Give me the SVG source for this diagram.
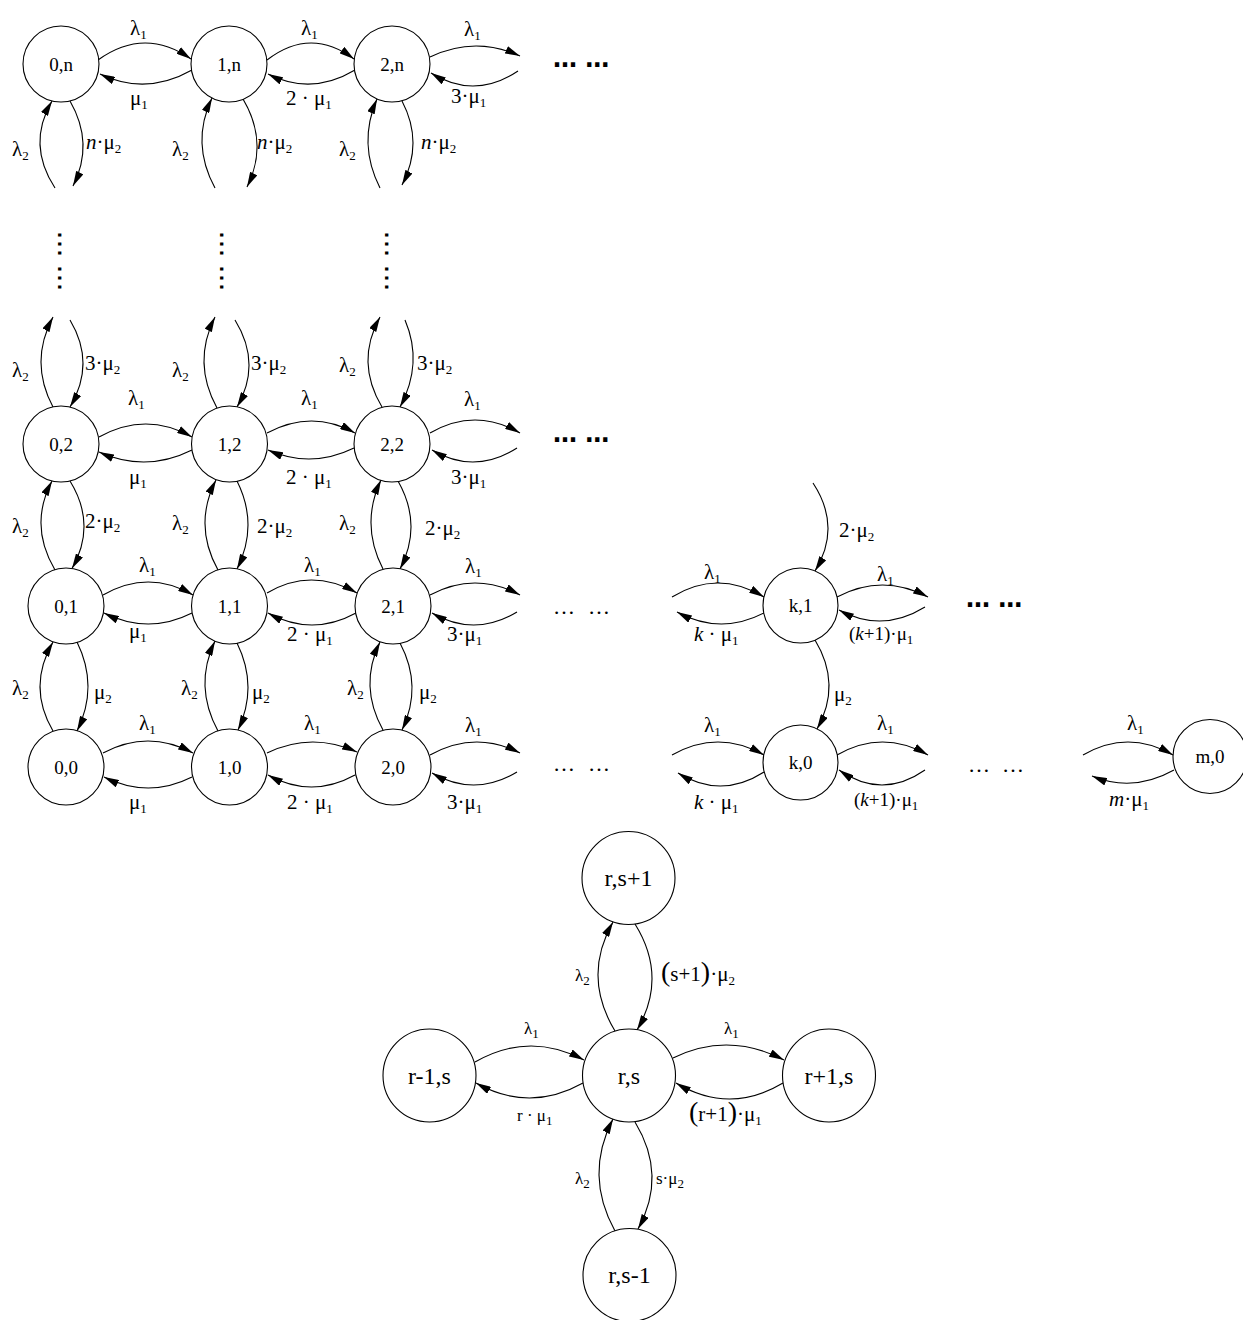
<svg xmlns="http://www.w3.org/2000/svg" width="1243" height="1320" viewBox="0 0 1243 1320">
<style>
  .nd circle { fill: #fff; stroke: #000; stroke-width: 1.1; }
  .nd text { font-family: "Liberation Serif", serif; font-size: 19px; text-anchor: middle; fill: #000; }
  .big text { font-size: 24px; }
  .ed path { fill: none; stroke: #000; stroke-width: 1.1; marker-end: url(#ah); }
  .lb { font-family: "Liberation Serif", serif; font-size: 21px; fill: #000; }
  .sm { font-size: 17px; }
  .md { font-size: 19px; }
  .sb { font-size: 13px; }
  .it { font-style: italic; }
  .pr { font-size: 28px; }
  .dl { font-family: "Liberation Serif", serif; font-size: 22px; fill: #000; }
  .db { font-family: "DejaVu Sans", sans-serif; font-weight: bold; font-size: 24px; fill: #000; }
  .dv { font-family: "DejaVu Sans", sans-serif; font-size: 27px; fill: #000; }
</style>
<defs>
  <marker id="ah" viewBox="0 0 15 8" refX="15" refY="4" markerWidth="15" markerHeight="8" markerUnits="userSpaceOnUse" orient="auto">
    <path d="M0,0 L15,4 L0,8 z" fill="#000"/>
  </marker>
</defs>
<rect width="1243" height="1320" fill="#fff"/>

<!-- transitions -->
<g id="edges" class="ed">
  <!-- row n -->
  <path d="M98,60 Q144.5,26.5 191,59"/>
  <path d="M192,70 Q146,96 100,74"/>
  <path d="M267,60 Q310.5,26.5 354,59"/>
  <path d="M355,70 Q311.5,96 268,74"/>
  <path d="M430,57 Q475,35.5 520,56"/>
  <path d="M518,71 Q474.5,100 431,73"/>
  <path d="M55,188 Q26.5,144.5 52,101"/>
  <path d="M70,101 Q94.5,143.5 73,186"/>
  <path d="M215,188 Q190.5,143 212,98"/>
  <path d="M243,99 Q269,143 247,187"/>
  <path d="M380,188 Q357.5,143.5 377,99"/>
  <path d="M402,101 Q424,143 402,185"/>
  <!-- row 2 -->
  <path d="M53,407 Q29,362 53,317"/>
  <path d="M70,320 Q96,363.5 70,407"/>
  <path d="M217,408 Q192,362.5 215,317"/>
  <path d="M235,320 Q262,363.5 237,407"/>
  <path d="M382,407 Q355,362 380,317"/>
  <path d="M405,320 Q423.5,363.5 400,407"/>
  <path d="M99,437 Q146,411 192,437"/>
  <path d="M192,450 Q146,473 99,452"/>
  <path d="M267,433 Q312,409 355,433"/>
  <path d="M354,448 Q311,469 268,450"/>
  <path d="M430,433 Q475,407 520,433"/>
  <path d="M517,448 Q474.5,475 432,450"/>
  <!-- row 2 to row 1 -->
  <path d="M55,570 Q28.5,525.5 52,481"/>
  <path d="M70,481 Q97,524.75 72,568.5"/>
  <path d="M218,570 Q193,525 216,480"/>
  <path d="M237,481 Q259,525 237,569"/>
  <path d="M383,569 Q360,524.5 381,480"/>
  <path d="M398,481 Q423,525 400,569"/>
  <!-- row 1 -->
  <path d="M103,595 Q148.5,569 193,595"/>
  <path d="M192,613 Q148.5,635 104,613"/>
  <path d="M267,593 Q311,567 357,593"/>
  <path d="M356,613 Q312,637 268,613"/>
  <path d="M430,595 Q475,571 520,595"/>
  <path d="M517,612 Q474.5,637.5 432,613"/>
  <!-- row 1 to row 0 -->
  <path d="M53,731 Q27,686.5 53,642"/>
  <path d="M77,642 Q99,686.5 77,731"/>
  <path d="M218,731 Q193.5,686 215,641"/>
  <path d="M237,643 Q258.5,686.5 238,730"/>
  <path d="M383,730 Q358.5,686 380,642"/>
  <path d="M400,643 Q423,686.5 402,730"/>
  <!-- row 0 -->
  <path d="M103,753 Q148,729 193,753"/>
  <path d="M192,777 Q148.5,799 104,777"/>
  <path d="M267,753 Q311.5,731.5 357,752"/>
  <path d="M355,775 Q311.5,799 268,775"/>
  <path d="M430,755 Q475,730 520,753"/>
  <path d="M517,772 Q474.5,797.5 432,773"/>
  <!-- column k -->
  <path d="M813,483 Q842,527 815,571"/>
  <path d="M815,640 Q842,684.5 817,729"/>
  <path d="M672,597 Q717.5,569 764,597"/>
  <path d="M764,613 Q720.5,635.5 677,612"/>
  <path d="M837,597 Q882.5,573 928,597"/>
  <path d="M925,607 Q882,633.5 839,610"/>
  <path d="M672,755 Q718,729 764,755"/>
  <path d="M764,772 Q721,799.5 678,773"/>
  <path d="M837,755 Q882.5,729 928,755"/>
  <path d="M925,770 Q882,800 839,770"/>
  <!-- state m,0 -->
  <path d="M1083,755 Q1128,729 1173,755"/>
  <path d="M1174,770 Q1133,793 1092,776"/>
  <!-- general state r,s -->
  <path d="M615,1031 Q582,976.5 613,922"/>
  <path d="M635,924 Q668,977 637,1030"/>
  <path d="M475,1062 Q529,1031 584,1060"/>
  <path d="M583,1083 Q529.5,1113 476,1083"/>
  <path d="M673,1058 Q728,1031 784,1060"/>
  <path d="M783,1083 Q729.5,1115 676,1083"/>
  <path d="M615,1231 Q584,1175 613,1119"/>
  <path d="M635,1122 Q667.5,1175.5 638,1229"/>
</g>

<!-- states -->
<g id="n0n" class="nd"><circle cx="61" cy="64" r="38"/><text x="61" y="70.5">0,n</text></g>
<g id="n1n" class="nd"><circle cx="229" cy="64" r="38"/><text x="229" y="70.5">1,n</text></g>
<g id="n2n" class="nd"><circle cx="392" cy="64" r="38"/><text x="392" y="70.5">2,n</text></g>
<g id="n02" class="nd"><circle cx="61" cy="444" r="38"/><text x="61" y="450.5">0,2</text></g>
<g id="n12" class="nd"><circle cx="229.5" cy="444" r="38"/><text x="229.5" y="450.5">1,2</text></g>
<g id="n22" class="nd"><circle cx="392" cy="444" r="38"/><text x="392" y="450.5">2,2</text></g>
<g id="n01" class="nd"><circle cx="66" cy="606" r="38"/><text x="66" y="612.5">0,1</text></g>
<g id="n11" class="nd"><circle cx="229.5" cy="606" r="38"/><text x="229.5" y="612.5">1,1</text></g>
<g id="n21" class="nd"><circle cx="393" cy="606" r="38"/><text x="393" y="612.5">2,1</text></g>
<g id="n00" class="nd"><circle cx="66" cy="767" r="38"/><text x="66" y="773.5">0,0</text></g>
<g id="n10" class="nd"><circle cx="229.5" cy="767" r="38"/><text x="229.5" y="773.5">1,0</text></g>
<g id="n20" class="nd"><circle cx="393" cy="767" r="38"/><text x="393" y="773.5">2,0</text></g>
<g id="nk1" class="nd"><circle cx="800.5" cy="605.5" r="37.5"/><text x="800.5" y="612">k,1</text></g>
<g id="nk0" class="nd"><circle cx="800.5" cy="762.5" r="37.5"/><text x="800.5" y="769">k,0</text></g>
<g id="nm0" class="nd"><circle cx="1210" cy="756.5" r="37"/><text x="1210" y="763">m,0</text></g>
<g id="nrs1" class="nd big"><circle cx="628.5" cy="878" r="46.5"/><text x="628.5" y="886">r,s+1</text></g>
<g id="nrs" class="nd big"><circle cx="629" cy="1075.5" r="46.5"/><text x="629" y="1083.5">r,s</text></g>
<g id="nr-1s" class="nd big"><circle cx="429.5" cy="1075.5" r="46.5"/><text x="429.5" y="1083.5">r-1,s</text></g>
<g id="nr+1s" class="nd big"><circle cx="829" cy="1075.5" r="46.5"/><text x="829" y="1083.5">r+1,s</text></g>
<g id="nrs-1" class="nd big"><circle cx="629.5" cy="1275" r="46.5"/><text x="629.5" y="1283">r,s-1</text></g>

<!-- rate labels -->
<g id="labels">
  <!-- row n -->
  <text class="lb" x="130" y="35">λ<tspan class="sb" dy="4">1</tspan></text>
  <text class="lb" x="130" y="105">μ<tspan class="sb" dy="4">1</tspan></text>
  <text class="lb" x="301" y="35">λ<tspan class="sb" dy="4">1</tspan></text>
  <text class="lb" x="286" y="105">2 · μ<tspan class="sb" dy="4">1</tspan></text>
  <text class="lb" x="464" y="36">λ<tspan class="sb" dy="4">1</tspan></text>
  <text class="lb" x="451" y="103">3·μ<tspan class="sb" dy="4">1</tspan></text>
  <text class="lb" x="12" y="156">λ<tspan class="sb" dy="4">2</tspan></text>
  <text class="lb" x="86" y="149"><tspan class="it">n</tspan>·μ<tspan class="sb" dy="4">2</tspan></text>
  <text class="lb" x="172" y="156">λ<tspan class="sb" dy="4">2</tspan></text>
  <text class="lb" x="257" y="149"><tspan class="it">n</tspan>·μ<tspan class="sb" dy="4">2</tspan></text>
  <text class="lb" x="339" y="156">λ<tspan class="sb" dy="4">2</tspan></text>
  <text class="lb" x="421" y="149"><tspan class="it">n</tspan>·μ<tspan class="sb" dy="4">2</tspan></text>
  <!-- row 2 -->
  <text class="lb" x="12" y="377">λ<tspan class="sb" dy="4">2</tspan></text>
  <text class="lb" x="85" y="370">3·μ<tspan class="sb" dy="4">2</tspan></text>
  <text class="lb" x="172" y="377">λ<tspan class="sb" dy="4">2</tspan></text>
  <text class="lb" x="251" y="370">3·μ<tspan class="sb" dy="4">2</tspan></text>
  <text class="lb" x="339" y="372">λ<tspan class="sb" dy="4">2</tspan></text>
  <text class="lb" x="417" y="370">3·μ<tspan class="sb" dy="4">2</tspan></text>
  <text class="lb" x="128" y="405">λ<tspan class="sb" dy="4">1</tspan></text>
  <text class="lb" x="129" y="484">μ<tspan class="sb" dy="4">1</tspan></text>
  <text class="lb" x="301" y="405">λ<tspan class="sb" dy="4">1</tspan></text>
  <text class="lb" x="286" y="484">2 · μ<tspan class="sb" dy="4">1</tspan></text>
  <text class="lb" x="464" y="406">λ<tspan class="sb" dy="4">1</tspan></text>
  <text class="lb" x="451" y="484">3·μ<tspan class="sb" dy="4">1</tspan></text>
  <text class="lb" x="12" y="533">λ<tspan class="sb" dy="4">2</tspan></text>
  <text class="lb" x="85" y="528">2·μ<tspan class="sb" dy="4">2</tspan></text>
  <text class="lb" x="172" y="530">λ<tspan class="sb" dy="4">2</tspan></text>
  <text class="lb" x="257" y="533">2·μ<tspan class="sb" dy="4">2</tspan></text>
  <text class="lb" x="339" y="530">λ<tspan class="sb" dy="4">2</tspan></text>
  <text class="lb" x="425" y="535">2·μ<tspan class="sb" dy="4">2</tspan></text>
  <!-- row 1 -->
  <text class="lb" x="139" y="572">λ<tspan class="sb" dy="4">1</tspan></text>
  <text class="lb" x="129" y="638">μ<tspan class="sb" dy="4">1</tspan></text>
  <text class="lb" x="304" y="572">λ<tspan class="sb" dy="4">1</tspan></text>
  <text class="lb" x="287" y="641">2 · μ<tspan class="sb" dy="4">1</tspan></text>
  <text class="lb" x="465" y="573">λ<tspan class="sb" dy="4">1</tspan></text>
  <text class="lb" x="447" y="641">3·μ<tspan class="sb" dy="4">1</tspan></text>
  <text class="lb" x="12" y="695">λ<tspan class="sb" dy="4">2</tspan></text>
  <text class="lb" x="94" y="699">μ<tspan class="sb" dy="4">2</tspan></text>
  <text class="lb" x="181" y="695">λ<tspan class="sb" dy="4">2</tspan></text>
  <text class="lb" x="252" y="699">μ<tspan class="sb" dy="4">2</tspan></text>
  <text class="lb" x="347" y="695">λ<tspan class="sb" dy="4">2</tspan></text>
  <text class="lb" x="419" y="699">μ<tspan class="sb" dy="4">2</tspan></text>
  <!-- row 0 -->
  <text class="lb" x="139" y="730">λ<tspan class="sb" dy="4">1</tspan></text>
  <text class="lb" x="129" y="809">μ<tspan class="sb" dy="4">1</tspan></text>
  <text class="lb" x="304" y="730">λ<tspan class="sb" dy="4">1</tspan></text>
  <text class="lb" x="287" y="809">2 · μ<tspan class="sb" dy="4">1</tspan></text>
  <text class="lb" x="465" y="732">λ<tspan class="sb" dy="4">1</tspan></text>
  <text class="lb" x="447" y="809">3·μ<tspan class="sb" dy="4">1</tspan></text>
  <!-- column k and state m,0 -->
  <text class="lb" x="704" y="579">λ<tspan class="sb" dy="4">1</tspan></text>
  <text class="lb" x="694" y="641"><tspan class="it">k</tspan> · μ<tspan class="sb" dy="4">1</tspan></text>
  <text class="lb" x="839" y="537">2·μ<tspan class="sb" dy="4">2</tspan></text>
  <text class="lb" x="877" y="581">λ<tspan class="sb" dy="4">1</tspan></text>
  <text class="lb md" x="849" y="640">(<tspan class="it">k</tspan>+1)·μ<tspan class="sb" dy="4">1</tspan></text>
  <text class="lb" x="834" y="701">μ<tspan class="sb" dy="4">2</tspan></text>
  <text class="lb" x="704" y="732">λ<tspan class="sb" dy="4">1</tspan></text>
  <text class="lb" x="694" y="809"><tspan class="it">k</tspan> · μ<tspan class="sb" dy="4">1</tspan></text>
  <text class="lb" x="877" y="730">λ<tspan class="sb" dy="4">1</tspan></text>
  <text class="lb md" x="854" y="806">(<tspan class="it">k</tspan>+1)·μ<tspan class="sb" dy="4">1</tspan></text>
  <text class="lb" x="1127" y="730">λ<tspan class="sb" dy="4">1</tspan></text>
  <text class="lb" x="1109" y="806"><tspan class="it">m</tspan>·μ<tspan class="sb" dy="4">1</tspan></text>
  <!-- general state r,s -->
  <text class="lb sm" x="575" y="981">λ<tspan class="sb" dy="4">2</tspan></text>
  <text class="lb" x="661" y="981"><tspan class="pr">(</tspan>s+1<tspan class="pr">)</tspan>·μ<tspan class="sb" dy="4">2</tspan></text>
  <text class="lb sm" x="524" y="1034">λ<tspan class="sb" dy="4">1</tspan></text>
  <text class="lb sm" x="517" y="1121">r · μ<tspan class="sb" dy="4">1</tspan></text>
  <text class="lb sm" x="724" y="1034">λ<tspan class="sb" dy="4">1</tspan></text>
  <text class="lb" x="689" y="1121"><tspan class="pr">(</tspan>r+1<tspan class="pr">)</tspan>·μ<tspan class="sb" dy="4">1</tspan></text>
  <text class="lb sm" x="575" y="1184">λ<tspan class="sb" dy="4">2</tspan></text>
  <text class="lb sm" x="656" y="1184">s·μ<tspan class="sb" dy="4">2</tspan></text>
</g>

<!-- continuation dots -->
<g id="ellipses">
  <text class="db" x="553" y="67">… …</text>
  <text class="db" x="553" y="442">… …</text>
  <text class="db" x="966" y="607">… …</text>
  <text class="dl" x="553" y="614">…</text>
  <text class="dl" x="588" y="614">…</text>
  <text class="dl" x="553" y="771">…</text>
  <text class="dl" x="588" y="771">…</text>
  <text class="dl" x="968" y="772">…</text>
  <text class="dl" x="1002" y="772">…</text>
  <text class="dv" transform="translate(58,230.5) rotate(90)">…</text>
  <text class="dv" transform="translate(58,264.5) rotate(90)">…</text>
  <text class="dv" transform="translate(220,230.5) rotate(90)">…</text>
  <text class="dv" transform="translate(220,264.5) rotate(90)">…</text>
  <text class="dv" transform="translate(385,230.5) rotate(90)">…</text>
  <text class="dv" transform="translate(385,264.5) rotate(90)">…</text>
</g>
</svg>
